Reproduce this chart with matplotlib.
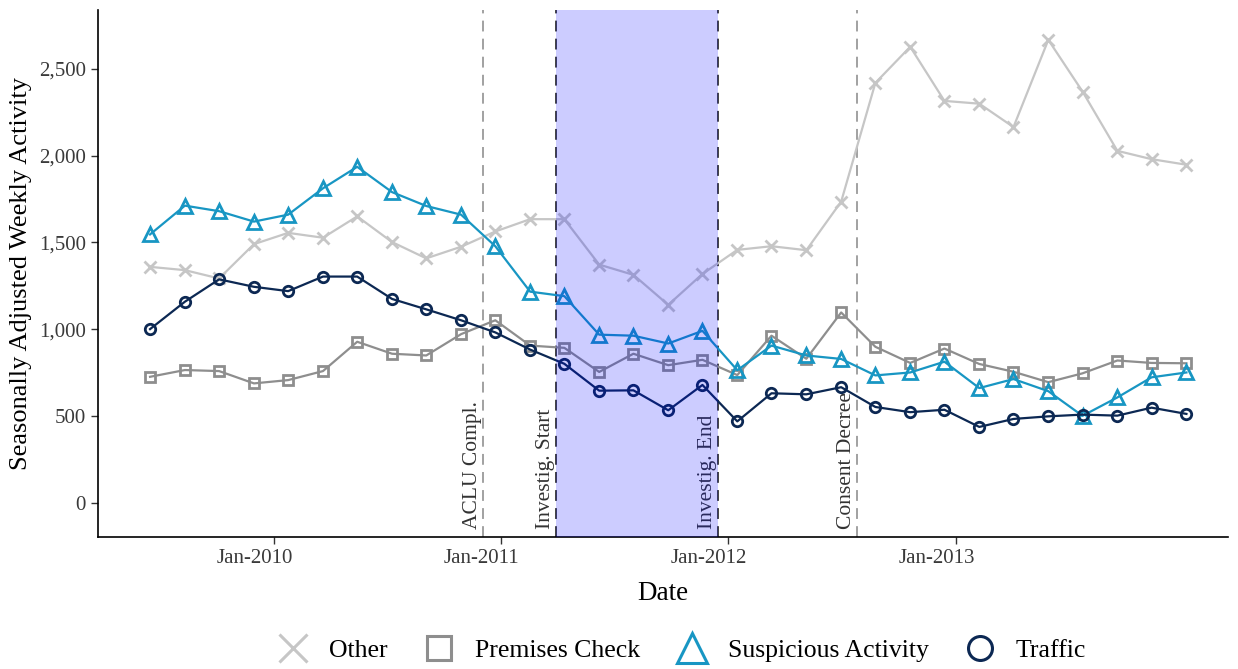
import pandas as pd
import numpy as np
import matplotlib
matplotlib.use("Agg")
import matplotlib.pyplot as plt
import matplotlib.dates as mdates
import matplotlib.transforms as mtransforms
from matplotlib.lines import Line2D
from matplotlib.ticker import FuncFormatter

plt.rcParams["font.family"] = ["Liberation Serif", "DejaVu Serif"]

# Data (8-week periods)
dates = pd.to_datetime([
    "2009-06-16", "2009-08-11", "2009-10-05", "2009-11-30", "2010-01-24",
    "2010-03-21", "2010-05-15", "2010-07-10", "2010-09-03", "2010-10-29",
    "2010-12-23", "2011-02-17", "2011-04-13", "2011-06-08", "2011-08-02",
    "2011-09-27", "2011-11-21", "2012-01-16", "2012-03-11", "2012-05-06",
    "2012-07-01", "2012-08-25", "2012-10-20", "2012-12-14", "2013-02-08",
    "2013-04-04", "2013-05-30", "2013-07-24", "2013-09-18", "2013-11-12",
    "2014-01-07",
])
other = [1359, 1340, 1292, 1490, 1555, 1527, 1650, 1502, 1408, 1475,
         1563, 1634, 1634, 1372, 1313, 1140, 1318, 1457, 1478, 1455,
         1735, 2420, 2628, 2316, 2300, 2165, 2668, 2370, 2028, 1980, 1948]
premises = [725, 764, 758, 687, 706, 758, 927, 858, 848, 971,
            1051, 905, 892, 753, 858, 792, 823, 735, 962, 829,
            1096, 898, 805, 888, 799, 754, 694, 745, 819, 805, 803]
suspicious = [1546, 1712, 1680, 1620, 1660, 1812, 1936, 1790, 1710, 1660,
              1478, 1216, 1190, 968, 962, 917, 990, 763, 905, 848,
              828, 733, 750, 812, 660, 712, 642, 500, 606, 722, 750]
traffic = [1000, 1158, 1287, 1244, 1219, 1303, 1303, 1174, 1114, 1051,
           981, 882, 800, 645, 647, 532, 678, 468, 630, 624,
           665, 551, 521, 535, 436, 482, 497, 507, 501, 547, 511]

events = pd.to_datetime(["2010-12-03", "2011-03-31", "2011-12-16", "2012-07-27"])
event_labels = ["ACLU Compl.", "Investig. Start", "Investig. End", "Consent Decree"]
event_colors = ["#9a9a9a", "#333333", "#333333", "#9a9a9a"]

series = [
    ("Other", other, "x", "#c6c6c6", 9),
    ("Premises Check", premises, "s", "#8e8e8e", 7.5),
    ("Suspicious Activity", suspicious, "^", "#1896c3", 9.5),
    ("Traffic", traffic, "o", "#0c2853", 7.5),
]

fig = plt.figure(figsize=(12.38, 6.69), dpi=100)
ax = fig.add_axes([0.079, 0.197, 0.913, 0.788])

for name, vals, mk, col, ms in series:
    ax.plot(dates, vals, color=col, lw=1.6, marker=mk, ms=ms,
            mfc="none", mec=col, mew=2, zorder=3)

# event lines and labels
for d, lab, c in zip(events, event_labels, event_colors):
    ax.axvline(d, color=c, lw=1.3, ls=(0, (6, 4)), zorder=2)
    ax.text(d - pd.Timedelta(days=2), -150, lab, rotation=90, ha="right",
            va="bottom", fontsize=15.5, color="#333333", zorder=2)

# investigation window, drawn over the lines
ax.axvspan(events[1], events[2], color="blue", alpha=0.2, lw=0, zorder=5)

ax.set_xlim(pd.Timestamp("2009-03-24"), pd.Timestamp("2014-03-15"))
ax.set_ylim(-200, 2840)
ax.set_yticks([0, 500, 1000, 1500, 2000, 2500])
ax.yaxis.set_major_formatter(FuncFormatter(lambda v, p: f"{int(v):,}"))
ax.set_xticks(pd.to_datetime(["2010-01-01", "2011-01-01", "2012-01-01", "2013-01-01"]))
ax.xaxis.set_major_formatter(mdates.DateFormatter("%b-%Y"))

ax.tick_params(axis="both", direction="out", length=5, width=1,
               labelsize=15, labelcolor="#3a3a3a", color="#333333")
shift = mtransforms.ScaledTranslation(-19 / 100, 0, fig.dpi_scale_trans)
for lbl in ax.get_xticklabels():
    lbl.set_transform(lbl.get_transform() + shift)

for s in ["top", "right"]:
    ax.spines[s].set_visible(False)
for s in ["left", "bottom"]:
    ax.spines[s].set_linewidth(1.2)

ax.set_xlabel("Date", fontsize=19.5, labelpad=9)
ax.set_ylabel("Seasonally Adjusted Weekly Activity", fontsize=19, labelpad=5)

handles = [Line2D([], [], ls="none", marker=mk, ms=ms * 2.3, mfc="none",
                  mec=col, mew=2.2) for _, _, mk, col, ms in series]
fig.legend(handles, [s[0] for s in series], loc="center",
           bbox_to_anchor=(0.551, 0.027), ncol=4, frameon=False,
           fontsize=18.5, handlelength=1.2, handletextpad=0.8, columnspacing=1.4)

fig.savefig("out.png", dpi=100)
